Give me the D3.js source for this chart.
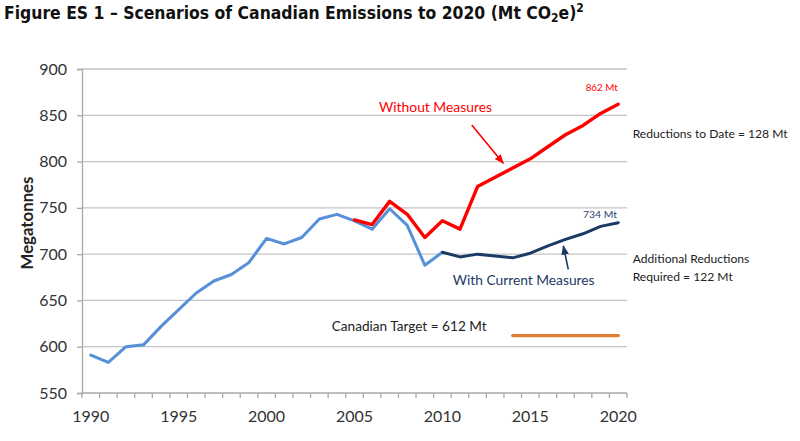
<!DOCTYPE html>
<html><head><meta charset="utf-8">
<script src="https://cdn.jsdelivr.net/npm/d3@7"></script>
<style>
html,body{margin:0;padding:0;background:#fff;}
svg{display:block;}
</style></head>
<body><svg id="c" width="800" height="441"></svg>
<script>
// ---- data ----
const categories = [1990,1991,1992,1993,1994,1995,1996,1997,1998,1999,2000,2001,2002,2003,2004,2005,2006,2007,2008,2009,2010,2011,2012,2013,2014,2015,2016,2017,2018,2019,2020];
const yTicks = [550,600,650,700,750,800,850,900];
const xLabelYears = [1990,1995,2000,2005,2010,2015,2020];

const historicalYears = [1990,1991,1992,1993,1994,1995,1996,1997,1998,1999,2000,2001,2002,2003,2004,2005,2006,2007,2008,2009,2010];
const historical = [591,583,600,602,622,640,658,671,678,691,717,711,718,738,743,736,727,749,731,688,702];

const withoutYears = [2005,2006,2007,2008,2009,2010,2011,2012,2013,2014,2015,2016,2017,2018,2019,2020];
const withoutMeasures = [737,732,757,743,718,736,727,773,783,793,803,816,829,839,852,862];

const currentYears = [2010,2011,2012,2013,2014,2015,2016,2017,2018,2019,2020];
const withCurrent = [702,697,700,698,696,701,709,716,722,730,734];

const targetYears = [2014,2020];
const target = [612,612];

(function(){
// ---- layout ----
const svg = d3.select("#c");
const pL = 82, pR = 627, pT = 69, pB = 393;
const x = d3.scaleBand().domain(categories).range([pL, pR]);
const step = x.step();
const cx = yr => x(categories[0]) + step/2 + (yr - categories[0]) * step;
const y = d3.scaleLinear().domain([550, 900]).range([pB, pT]);

const labelFont = "Lato, 'Open Sans', sans-serif";

function fit(sel, w){
  const n = sel.node();
  const fs = parseFloat(sel.attr("font-size"));
  const len = n.getComputedTextLength();
  if (len > 0) sel.attr("font-size", (fs * w / len).toFixed(2));
  return sel;
}

// gridlines
svg.append("g").selectAll("line").data(yTicks.slice(1)).join("line")
  .attr("x1", pL).attr("x2", pR)
  .attr("y1", d => y(d)).attr("y2", d => y(d))
  .attr("stroke", "#c4c4c4").attr("stroke-width", 1.3);

// y axis
const yAxis = svg.append("g").attr("transform", `translate(${pL},0)`)
  .call(d3.axisLeft(y).tickValues(yTicks).tickSize(5).tickPadding(10));
yAxis.select(".domain").attr("stroke", "#a8a8a8").attr("stroke-width", 1.3);
yAxis.selectAll(".tick line").attr("stroke", "#a8a8a8").attr("stroke-width", 1.3);
yAxis.selectAll(".tick text").attr("font-family", labelFont).attr("font-size", 16).attr("fill", "#333");

// x axis
const xAxis = svg.append("g").attr("transform", `translate(0,${pB})`)
  .call(d3.axisBottom(x).tickValues(xLabelYears).tickSize(0).tickPadding(18));
xAxis.select(".domain").remove();
xAxis.selectAll(".tick text").attr("font-family", labelFont).attr("font-size", 16).attr("fill", "#333");
svg.append("line").attr("x1", pL).attr("x2", pR).attr("y1", pB).attr("y2", pB)
  .attr("stroke", "#a8a8a8").attr("stroke-width", 1.3);
const boundaries = categories.map(c => x(c)).concat([pR]);
svg.append("g").selectAll("line").data(boundaries).join("line")
  .attr("x1", d => d).attr("x2", d => d).attr("y1", pB).attr("y2", pB + 5)
  .attr("stroke", "#a8a8a8").attr("stroke-width", 1.3);

// y label
fit(svg.append("text").attr("transform", "translate(33,223) rotate(-90)")
  .attr("text-anchor", "middle").attr("font-family", labelFont).attr("font-weight", "bold")
  .attr("font-size", 15).attr("fill", "#222").text("Megatonnes"), 93);

// lines
const line = d3.line().x(d => cx(d[0])).y(d => y(d[1]));
function drawSeries(yrs, vals, color, w){
  svg.append("path").datum(yrs.map((yr, i) => [yr, vals[i]]))
    .attr("d", line).attr("fill", "none").attr("stroke", color)
    .attr("stroke-width", w).attr("stroke-linejoin", "round").attr("stroke-linecap", "round");
}
drawSeries(historicalYears, historical, "#5590d8", 3);
drawSeries(withoutYears, withoutMeasures, "#ff0000", 3.4);
drawSeries(currentYears, withCurrent, "#1b3a64", 3);
drawSeries(targetYears, target, "#e27d34", 3.4);

// arrows
const defs = svg.append("defs");
function marker(id, color){
  defs.append("marker").attr("id", id).attr("viewBox", "0 0 10 10").attr("refX", 9).attr("refY", 5)
    .attr("markerWidth", 6).attr("markerHeight", 6).attr("orient", "auto-start-reverse")
    .append("path").attr("d", "M0,1 L10,5 L0,9 Z").attr("fill", color);
}
marker("ar", "#ff0000"); marker("an", "#1b3a64");
const redArrow = [[2011.67, 839.5], [2013.46, 798.1]];
const navyArrow = [[2017.16, 683.6], [2016.88, 708.8]];
svg.append("line").attr("x1", cx(redArrow[0][0])).attr("y1", y(redArrow[0][1]))
  .attr("x2", cx(redArrow[1][0])).attr("y2", y(redArrow[1][1]))
  .attr("stroke", "#ff0000").attr("stroke-width", 1.6).attr("marker-end", "url(#ar)");
svg.append("line").attr("x1", cx(navyArrow[0][0])).attr("y1", y(navyArrow[0][1]))
  .attr("x2", cx(navyArrow[1][0])).attr("y2", y(navyArrow[1][1]))
  .attr("stroke", "#1b3a64").attr("stroke-width", 1.6).attr("marker-end", "url(#an)");

// annotations
const fitted = [
  {t:"Without Measures", x:379, y:112, w:113, fs:15, c:"#ff0000"},
  {t:"With Current Measures", x:452.7, y:285, w:142, fs:15, c:"#1b3a64"},
  {t:"Canadian Target = 612 Mt", x:331.7, y:331, w:155, fs:14, c:"#222"},
  {t:"862 Mt", x:585.7, y:90.5, w:32, fs:11.5, c:"#ff0000"},
  {t:"734 Mt", x:583, y:218, w:34, fs:11.5, c:"#2a4470"}
];
fitted.forEach(n => {
  fit(svg.append("text").attr("x", n.x).attr("y", n.y).attr("font-family", labelFont)
    .attr("font-size", n.fs).attr("fill", n.c).text(n.t), n.w);
});
// right-hand notes share one size, measured from the longest one
const ref = fit(svg.append("text").attr("x", 632.7).attr("y", 138).attr("font-family", labelFont)
  .attr("font-size", 14).attr("fill", "#222").text("Reductions to Date = 128 Mt"), 155);
const fsBlack = ref.attr("font-size");
[
  {t:"Additional Reductions", x:632.7, y:263},
  {t:"Required = 122 Mt", x:632.7, y:281}
].forEach(n => {
  svg.append("text").attr("x", n.x).attr("y", n.y).attr("font-family", labelFont)
    .attr("font-size", fsBlack).attr("fill", "#222").text(n.t);
});

// title
const title = svg.append("text").attr("x", 4).attr("y", 19)
  .attr("font-family", "'DejaVu Sans Condensed', 'DejaVu Sans', sans-serif")
  .style("font-stretch", "condensed").attr("font-weight", "bold").attr("font-size", 16).attr("fill", "#111");
title.append("tspan").text("Figure ES 1 \u2013 Scenarios of Canadian Emissions to 2020 (Mt CO");
const s1 = title.append("tspan").attr("font-size", 11).attr("dy", 3).text("2");
title.append("tspan").attr("dy", -3).text("e)");
const s2 = title.append("tspan").attr("font-size", 11).attr("dy", -7).text("2");
const totalLen = title.node().getComputedTextLength();
const k = 580 / totalLen;
title.attr("font-size", (16 * k).toFixed(2));
s1.attr("font-size", (11 * k).toFixed(2));
s2.attr("font-size", (11 * k).toFixed(2));
})();
</script></body></html>
